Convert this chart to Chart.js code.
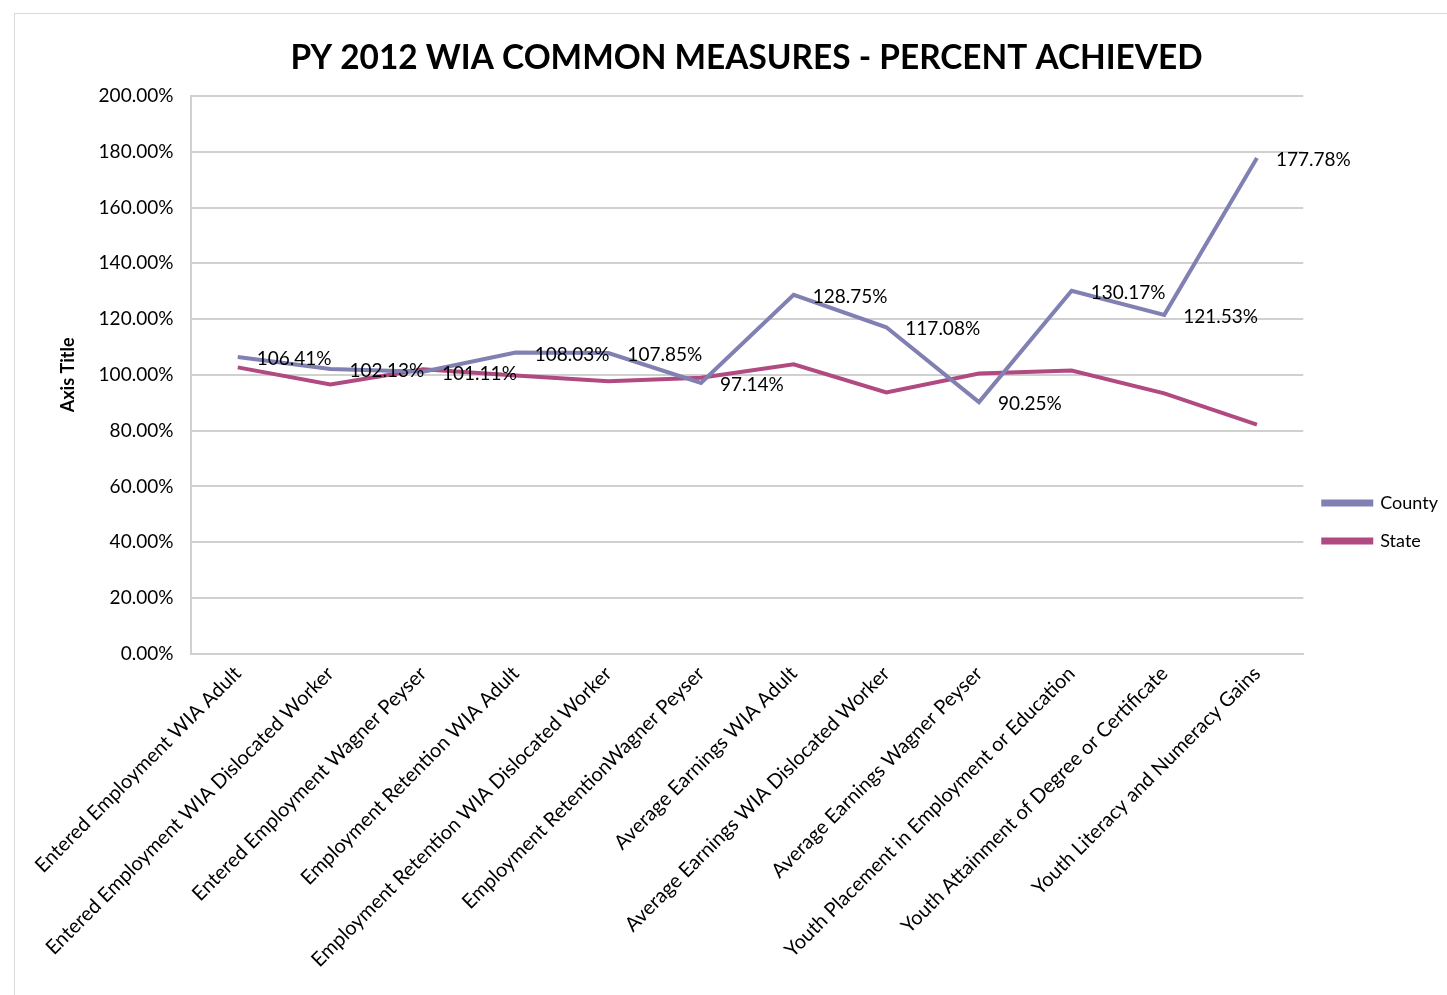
<!DOCTYPE html>
<html>
<head>
<meta charset="utf-8">
<script src="https://cdn.jsdelivr.net/npm/chart.js@4.4.0/dist/chart.umd.min.js"></script>
<style>
  body { margin: 0; background: #fff; }
  #frame { position: absolute; left: 14px; top: 13px; width: 1460px; height: 1000px; border: 1px solid #d9d9d9; }
  #wrap { position: absolute; left: 0; top: 0; width: 1447px; height: 995px; }
</style>
</head>
<body>
<div id="frame"></div>
<div id="wrap"><canvas id="chart" width="1447" height="995"></canvas></div>
<script>
const categories = [
  'Entered Employment WIA Adult',
  'Entered Employment WIA Dislocated Worker',
  'Entered Employment Wagner Peyser',
  'Employment Retention WIA Adult',
  'Employment Retention WIA Dislocated Worker',
  'Employment RetentionWagner Peyser',
  'Average Earnings WIA Adult',
  'Average Earnings WIA Dislocated Worker',
  'Average Earnings Wagner Peyser',
  'Youth Placement in Employment or Education',
  'Youth Attainment of Degree or Certificate',
  'Youth Literacy and Numeracy Gains'
];
const county = [106.41, 102.13, 101.11, 108.03, 107.85, 97.14, 128.75, 117.08, 90.25, 130.17, 121.53, 177.78];
const state = [102.7, 96.6, 102.0, 99.8, 97.7, 99.0, 103.8, 93.7, 100.5, 101.6, 93.4, 82.2];
const yTicks = [0, 20, 40, 60, 80, 100, 120, 140, 160, 180, 200];

const fontFamily = 'Lato, "Open Sans", sans-serif';
const gridColor = '#d0d0d0';
const countyColor = '#8080b3';
const stateColor = '#b04a80';

// draws the county value labels to the right of each point
const valueLabels = {
  id: 'valueLabels',
  afterDatasetsDraw(chart) {
    const ctx = chart.ctx;
    const meta = chart.getDatasetMeta(0);
    ctx.save();
    ctx.font = '19px ' + fontFamily;
    ctx.fillStyle = '#000';
    ctx.textAlign = 'left';
    ctx.textBaseline = 'middle';
    meta.data.forEach((pt, i) => {
      ctx.fillText(county[i].toFixed(2) + '%', pt.x + 19, pt.y + 2);
    });
    ctx.restore();
  }
};

new Chart(document.getElementById('chart'), {
  type: 'line',
  data: {
    labels: categories,
    datasets: [
      {
        label: 'County',
        data: county,
        borderColor: countyColor,
        backgroundColor: countyColor,
        borderWidth: 4,
        pointRadius: 0,
        tension: 0
      },
      {
        label: 'State',
        data: state,
        borderColor: stateColor,
        backgroundColor: stateColor,
        borderWidth: 4,
        pointRadius: 0,
        tension: 0
      }
    ]
  },
  options: {
    responsive: false,
    animation: false,
    layout: {
      padding: { top: 38, left: 45, right: -1, bottom: 15 }
    },
    plugins: {
      title: {
        display: true,
        text: 'PY 2012 WIA COMMON MEASURES - PERCENT ACHIEVED',
        color: '#000',
        font: { family: fontFamily, size: 33.4, weight: 'bold' },
        padding: { top: 0, bottom: 18 }
      },
      legend: {
        position: 'right',
        title: {
          display: true,
          text: ' ',
          font: { size: 10 },
          padding: { top: 0, bottom: 14 }
        },
        labels: {
          color: '#000',
          font: { family: fontFamily, size: 18 },
          boxWidth: 48,
          boxHeight: 3,
          padding: 20
        }
      },
      tooltip: { enabled: false }
    },
    scales: {
      x: {
        offset: true,
        grid: { display: false, drawTicks: false },
        border: { color: gridColor, width: 2 },
        ticks: {
          color: '#000',
          font: { family: fontFamily, size: 20 },
          minRotation: 45,
          maxRotation: 45,
          autoSkip: false,
          padding: 8
        }
      },
      y: {
        min: 0,
        max: 200,
        afterBuildTicks: axis => { axis.ticks = yTicks.map(v => ({ value: v })); },
        grid: { color: gridColor, lineWidth: 2, drawTicks: false },
        border: { color: gridColor, width: 2 },
        ticks: {
          color: '#000',
          font: { family: fontFamily, size: 19 },
          padding: 18,
          callback: v => v.toFixed(2) + '%'
        },
        title: {
          display: true,
          text: 'Axis Title',
          color: '#000',
          font: { family: fontFamily, size: 18, weight: 'bold' },
          padding: { top: 12, bottom: 2 }
        }
      }
    }
  },
  plugins: [valueLabels]
});
</script>
</body>
</html>
